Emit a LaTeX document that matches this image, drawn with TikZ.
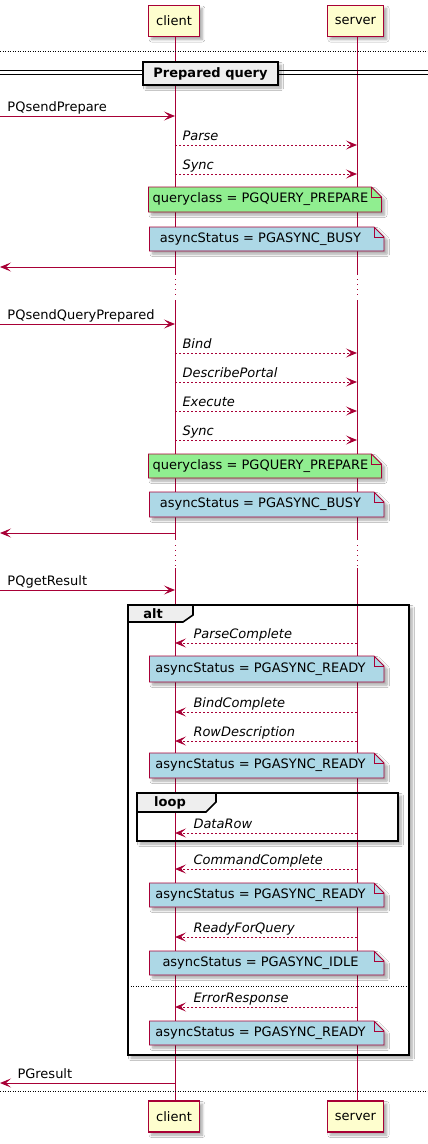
\documentclass[tikz,border=0pt]{standalone}
\usepackage{fontspec}
\setmainfont{DejaVu Sans}
\usetikzlibrary{arrows.meta,shadows.blur}

\definecolor{umlred}{HTML}{A80036}
\definecolor{partfill}{HTML}{FEFECE}
\definecolor{notegreen}{HTML}{90EE90}
\definecolor{noteblue}{HTML}{ADD8E6}
\definecolor{framegray}{HTML}{EEEEEE}

\tikzset{
  basefont/.style={font=\fontsize{13}{15}\selectfont, text=black},
  dropshadow/.style={blur shadow={shadow xshift=3pt, shadow yshift=-3pt,
      shadow blur steps=6, shadow blur radius=2.5pt, shadow opacity=35}},
  participant/.style={basefont, draw=umlred, line width=1.2pt, fill=partfill,
      minimum height=31pt, inner xsep=7.5pt, inner ysep=0pt, dropshadow},
  lifeline/.style={umlred, line width=0.9pt},
  delayline/.style={umlred, line width=0.9pt, dash pattern=on 1pt off 4pt},
  sync/.style={umlred, line width=1pt,
      -{Stealth[length=11pt,width=9pt,inset=5pt]}},
  async/.style={sync, dash pattern=on 2pt off 2pt},
  msglbl/.style={basefont, anchor=base west, yshift=5pt, inner sep=0pt},
  asynclbl/.style={msglbl, font=\fontsize{13}{15}\selectfont\itshape},
  notetext/.style={basefont, inner sep=0pt, text height=9.5pt, text depth=3pt},
  noteline/.style={umlred, line width=0.9pt},
  frame/.style={black, line width=1.6pt},
  frametitle/.style={basefont, font=\fontsize{13}{15}\selectfont\bfseries, inner sep=0pt},
  sepbox/.style={basefont, font=\fontsize{13}{15}\selectfont\bfseries, draw=black,
      line width=1.5pt, fill=framegray, minimum width=135pt, minimum height=23pt,
      inner sep=0pt, dropshadow},
  dotline/.style={black, line width=0.8pt, dash pattern=on 1pt off 1.5pt},
}

% message from the left edge into the client
\newcommand\callin[3]{%
  \coordinate (#1) at (0,#2);
  \draw[sync] (#1) -- (cl |- #1) node[msglbl, pos=0, xshift=7pt] (#1t) {#3};
}
% dashed request client -> server
\newcommand\request[3]{%
  \coordinate (#1) at (0,#2);
  \draw[async] (cl |- #1) -- (sl |- #1) node[asynclbl, pos=0, xshift=7pt] (#1t) {#3};
}
% dashed reply server -> client
\newcommand\response[3]{%
  \coordinate (#1) at (0,#2);
  \draw[async] (sl |- #1) -- (cl |- #1) node[asynclbl, pos=1, xshift=18pt] (#1t) {#3};
}
% note spanning both lifelines: name, x1, y1, x2, y2, colour, text
\newcommand\umlnote[7]{%
  \path[dropshadow, fill=#6] (#2,#3) -- ({#4-10},#3) -- (#4,{#3+10}) -- (#4,#5) -- (#2,#5) -- cycle;
  \draw[noteline, fill=#6] (#2,#3) -- ({#4-10},#3) -- (#4,{#3+10}) -- (#4,#5) -- (#2,#5) -- cycle;
  \draw[noteline] ({#4-10},#3) -- ({#4-10},{#3+10}) -- (#4,{#3+10});
  \node[notetext] (#1) at (260.5,{(#3+#5)/2}) {#7};
}

\begin{document}
\begin{tikzpicture}[x=1pt, y=-1pt]
\useasboundingbox (0,0) rectangle (428,1144);
\fill[white] (0,0) rectangle (428,1144);

% participants (top)
\node[participant] (ct) at (174,21) {client};
\node[participant] (st) at (355.5,21) {server};
\coordinate (cl) at (175,37);
\coordinate (sl) at (357,37);

% frame backgrounds with shadows
\path[dropshadow, fill=white] (128,605) rectangle (409,1055);
\path[dropshadow, fill=white] (137,793) rectangle (398,841);

% lifelines with two delays
\foreach \ll in {cl,sl} {
  \draw[lifeline] (\ll) -- (\ll |- 0,275);
  \draw[delayline] (\ll |- 0,279) -- (\ll |- 0,297);
  \draw[lifeline] (\ll |- 0,300) -- (\ll |- 0,540);
  \draw[delayline] (\ll |- 0,545) -- (\ll |- 0,566);
  \draw[lifeline] (\ll |- 0,568) -- (\ll |- 0,1101);
}

% page delimiters
\draw[dotline] (0,51) -- (428,51);
\draw[dotline] (0,1091) -- (428,1091);

% separator
\draw[black, line width=0.8pt] (0,70.5) -- (428,70.5);
\draw[black, line width=0.8pt] (0,74) -- (428,74);
\node[sepbox] (sep) at (210.5,73.5) {Prepared query};

% prepare
\callin{m1}{116}{PQsendPrepare}
\request{m2}{145}{Parse}
\request{m3}{174}{Sync}
\umlnote{n1}{148.5}{187}{381.5}{212}{notegreen}{queryclass = PGQUERY\_PREPARE}
\umlnote{n2}{149.5}{227}{384}{251}{noteblue}{asyncStatus = PGASYNC\_BUSY}
\coordinate (m4) at (0,267);
\draw[sync] (cl |- m4) -- (m4);

% execute prepared
\callin{m5}{324}{PQsendQueryPrepared}
\request{m6}{353}{Bind}
\request{m7}{382}{DescribePortal}
\request{m8}{411}{Execute}
\request{m9}{440}{Sync}
\umlnote{n3}{148.5}{454}{381.5}{478}{notegreen}{queryclass = PGQUERY\_PREPARE}
\umlnote{n4}{149.5}{492}{384}{517}{noteblue}{asyncStatus = PGASYNC\_BUSY}
\coordinate (m10) at (0,533);
\draw[sync] (cl |- m10) -- (m10);

% results
\callin{m11}{590}{PQgetResult}

% alt frame
\draw[frame] (128,605) rectangle (409,1055);
\draw[frame, fill=framegray] (128,605) -- (193,605) -- (193,615) -- (183,622) -- (128,622) -- cycle;
\node[frametitle] (alt) at (153,613.5) {alt};

\response{r1}{643}{ParseComplete}
\umlnote{n5}{149.5}{656}{384}{682}{noteblue}{asyncStatus = PGASYNC\_READY}
\response{r2}{712}{BindComplete}
\response{r3}{741}{RowDescription}
\umlnote{n6}{149.5}{753}{384}{778}{noteblue}{asyncStatus = PGASYNC\_READY}

% loop frame
\draw[frame] (137,793) rectangle (398,841);
\draw[frame, fill=framegray] (137,793) -- (216,793) -- (216,802) -- (206,812) -- (137,812) -- cycle;
\node[frametitle] (loop) at (170,802.5) {loop};
\response{r4}{833}{DataRow}

\response{r5}{869}{CommandComplete}
\umlnote{n7}{149.5}{883}{384}{907}{noteblue}{asyncStatus = PGASYNC\_READY}
\response{r6}{937}{ReadyForQuery}
\umlnote{n8}{149.5}{951}{384}{975}{noteblue}{asyncStatus = PGASYNC\_IDLE}

% else branch
\draw[dotline] (128,986) -- (409,986);
\response{r7}{1007}{ErrorResponse}
\umlnote{n9}{149.5}{1021}{384}{1045}{noteblue}{asyncStatus = PGASYNC\_READY}

% result back to caller
\coordinate (m12) at (0,1083);
\draw[sync] (cl |- m12) -- (m12) node[msglbl, pos=1, xshift=17pt] (m12t) {PGresult};

% participants (bottom)
\node[participant] (cb) at (174,1116.5) {client};
\node[participant] (sb) at (355.5,1116.5) {server};
\end{tikzpicture}
\end{document}
